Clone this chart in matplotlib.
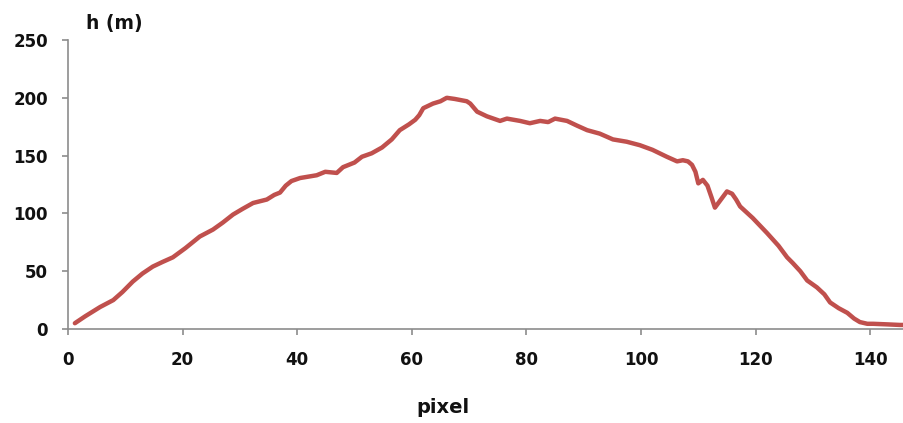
import matplotlib
matplotlib.use("Agg")
import matplotlib.pyplot as plt

pixel = [1.2, 3, 5.6, 7.9, 9.5, 11.3, 13, 14.8, 16.5, 18.3, 20.5, 23, 25.3, 27, 28.8, 30.5, 32.3, 34.7,
         36, 37, 38, 39, 40.5, 43.4, 44.9, 46.9, 48, 50, 51.3, 53, 54.8, 56.5, 57.9, 59.5, 60.6, 61.3,
         62, 63.7, 65, 66.1, 67.5, 69.6, 70.2, 71.4, 73.1, 75.4, 76.6, 78.9, 80.6, 82.4, 83.8, 85,
         87.1, 88.8, 90.6, 92.8, 95.1, 97.5, 99.8, 102, 104.5, 106.3, 107.3, 108.2, 108.9, 109.5, 110,
         110.8, 111.6, 112.3, 112.9, 113.8, 115, 115.9, 116.6, 117.3, 119.5, 122, 124, 125.5, 126.5,
         127.8, 129, 130.7, 132, 133, 134.5, 136, 137.2, 138.2, 139.5, 140.5, 143, 145.2, 146.5]
h = [5, 11, 19, 25, 32, 41, 48, 54, 58, 62, 70, 80, 86, 92, 99, 104, 109, 112,
     116, 118, 124, 128, 130.6, 133, 136, 135, 140, 144, 149, 152, 157, 164, 172, 177, 181, 185,
     191, 195, 197, 200, 199, 197, 195, 188, 184, 180, 182, 180, 178, 180, 179, 182,
     180, 176, 172, 169, 164, 162, 159, 155, 149, 145, 146, 145, 142, 136, 126,
     129, 124, 114, 105, 111, 119, 117, 112, 106, 96, 83, 72, 62, 57,
     50, 42, 36, 30, 23, 18, 14, 9, 6, 4.5, 4.5, 4, 3.5, 3.5]

fig = plt.figure(figsize=(9.04, 4.23), dpi=100)
ax = fig.add_axes([68/904, 1-329/423, 1-68/904, (329-40)/423])
ax.plot(pixel, h, color="#C0504D", lw=3.2, solid_capstyle="round", solid_joinstyle="round")
ax.set_xlim(0, 145.9)
ax.set_ylim(0, 250)
ax.set_xticks([0, 20, 40, 60, 80, 100, 120, 140])
ax.set_yticks([0, 50, 100, 150, 200, 250])
for s in ["top", "right"]:
    ax.spines[s].set_visible(False)
for s in ["left", "bottom"]:
    ax.spines[s].set_color("#8c8c8c")
    ax.spines[s].set_linewidth(1.2)
ax.tick_params(axis="both", direction="out", length=4.5, width=1.2, color="#8c8c8c",
               labelsize=12, labelcolor="#111111")
ax.tick_params(axis="x", pad=11.5)
ax.tick_params(axis="y", pad=10)
for lab in ax.get_xticklabels() + ax.get_yticklabels():
    lab.set_fontweight("bold")
ax.patch.set_alpha(0)
fig.text(114/904, 1-24/423, "h (m)", fontsize=13.5, fontweight="bold", ha="center", va="center", color="#111111")
fig.text(443/904, 1-407/423, "pixel", fontsize=14, fontweight="bold", ha="center", va="center", color="#111111")
fig.savefig("out.png", dpi=100)
